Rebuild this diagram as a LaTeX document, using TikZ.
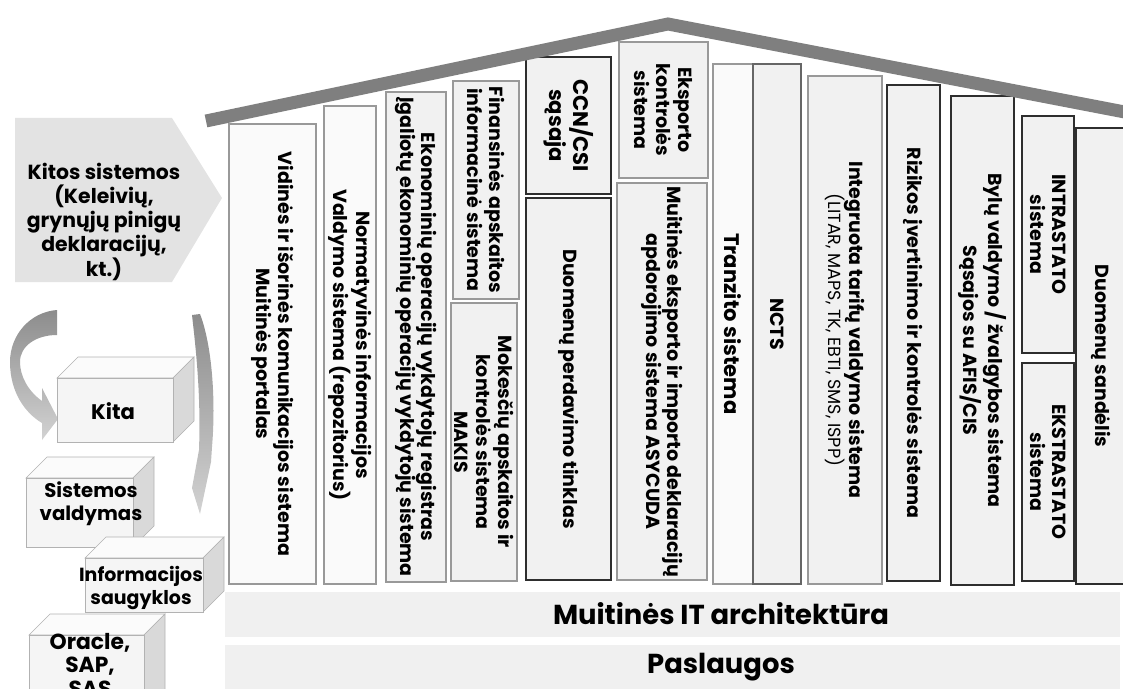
\documentclass[tikz,border=0pt]{standalone}
\usepackage{fontspec}
\setmainfont{Poppins}
\usetikzlibrary{positioning,fit}

\definecolor{roofgray}{HTML}{7F7F7F}
\definecolor{pale}{HTML}{FAFAFA}
\definecolor{light}{HTML}{F1F1F1}
\definecolor{edgelight}{HTML}{999999}
\definecolor{edgemid}{HTML}{666666}
\definecolor{edgedark}{HTML}{2E2E2E}

\begin{document}
\begin{tikzpicture}[x=0.025cm,y=-0.025cm,
    box/.style={draw=#1,line width=0.9pt,inner sep=0pt},
    vtext/.style={rotate=-90,align=center,inner sep=0pt,font=\bfseries\fontsize{13.5}{15.5}\selectfont},
    bar/.style={fill=gray!12,inner sep=0pt},
    bartext/.style={font=\bfseries\fontsize{19.5}{22}\selectfont},
    cubetext/.style={align=center,inner sep=0pt,font=\bfseries\fontsize{14}{16.5}\selectfont},
    bendarrow/.style={top color=gray!90,bottom color=gray!35,draw=none}]
  \useasboundingbox (0,0) rectangle (1123,689);

  % other systems
  \fill[gray!22] (15,118) -- (172,118) -- (222,198) -- (172,282) -- (15,282) -- cycle;
  \node[cubetext,font=\bfseries\fontsize{14.5}{17}\selectfont] (kitos) at (104,222)
    {Kitos sistemos\\(Keleivių,\\grynųjų pinigų\\deklaracijų,\\kt.)};

  \shade[bendarrow] (57,310) .. controls (30,312) and (10,335) .. (10,362)
    .. controls (10,392) and (25,413) .. (42,423) -- (42,440) -- (58,419) -- (42,388) -- (42,401)
    .. controls (28,391) and (20,376) .. (20,362) .. controls (20,346) and (36,335) .. (57,335) -- cycle;
  \shade[bendarrow] (192,315) .. controls (196,350) and (201,395) .. (199,450) -- (192,488)
    -- (200,514) -- (211,462) -- (212,447) .. controls (216,400) and (212,345) .. (200,314) -- cycle;

  % cubes
  \foreach \x/\y/\w/\h in {57/378/116/64, 26/478/107/69, 85/558/118/54, 29/635/115/80}{
    \draw[gray!60,fill=gray!3] (\x,\y) -- ++(21,-21) -- ++(\w,0) -- ++(-21,21) -- cycle;
    \draw[gray!60,fill=gray!30] (\x+\w,\y) -- ++(21,-21) -- ++(0,\h) -- ++(-21,21) -- cycle;
    \draw[gray!60,fill=gray!8] (\x,\y) rectangle ++(\w,\h);
  }
  \node[cubetext,font=\bfseries\fontsize{15}{16.5}\selectfont] (kita) at (113,411) {Kita};
  \node[cubetext] (valdymas) at (91,504) {Sistemos\\valdymas};
  \node[cubetext,font=\bfseries\fontsize{13.5}{16.5}\selectfont] (saugyklos) at (141,588) {Informacijos\\saugyklos};
  \node[cubetext,font=\bfseries\fontsize{15.5}{16.5}\selectfont] (oracle) at (90,665) {Oracle,\\SAP,\\SAS};

  % base
  \node[bar,fit={(225,592)(1120,637)}] (arch) {};
  \node[bartext] (arch-t) at (721,614) {Muitinės IT architektūra};
  \node[bar,fit={(225,645)(1120,689)}] (paslaugos) {};
  \node[bartext] (paslaugos-t) at (721,667) {Paslaugos};

  % columns
  \node[box=edgelight,fill=pale,fit={(229,124)(316,584)}] (vidines) {};
  \node[vtext] (vidines-t) at (vidines) {Vidinės ir išorinės komunikacijos sistema\\Muitinės portalas};
  \node[box=edgelight,fill=pale,fit={(324,106)(376,584)}] (norm) {};
  \node[vtext] (norm-t) at (norm) {Normatyvinės informacijos\\Valdymo sistema (repozitorius)};
  \node[box=edgelight,fill=light,fit={(386,92)(446,582)}] (eko) {};
  \node[vtext] (eko-t) at (eko) {Ekonominių operacijų vykdytojų registras\\Įgaliotų ekonominių operacijų vykdytojų sistema};
  \node[box=edgelight,fill=light,fit={(453,81)(519,299)}] (fin) {};
  \node[vtext] (fin-t) at (fin) {Finansinės apskaitos\\informacinė sistema};
  \node[box=edgelight,fill=light,fit={(451,303)(517,581)}] (makis) {};
  \node[vtext] (makis-t) at (makis) {Mokesčių apskaitos ir\\kontrolės sistema\\MAKIS};
  \node[box=edgedark,fill=light,fit={(526,57)(611,194)}] (ccn) {};
  \node[vtext,font=\bfseries\fontsize{15}{17}\selectfont] (ccn-t) at (ccn) {CCN/CSI\\sąsaja};
  \node[box=edgedark,fill=light,fit={(526,198)(611,580)}] (perd) {};
  \node[vtext] (perd-t) at (perd) {Duomenų perdavimo tinklas};
  \node[box=edgelight,fill=light,fit={(619,42)(708,178)}] (eksk) {};
  \node[vtext] (eksk-t) at (eksk) {Eksporto\\kontrolės\\sistema};
  \node[box=edgelight,fill=light,fit={(617,183)(707,580)}] (asy) {};
  \node[vtext] (asy-t) at (asy) {Muitinės eksporto ir importo deklaracijų\\apdorojimo sistema ASYCUDA};
  \node[box=edgelight,fill=pale,fit={(713,64)(753,584)}] (tranz) {};
  \node[vtext,font=\bfseries\fontsize{15}{17}\selectfont] (tranz-t) at (tranz) {Tranzito sistema};
  \node[box=edgemid,fill=light,fit={(753,64)(801,584)}] (ncts) {};
  \node[vtext] (ncts-t) at (ncts) {NCTS};
  \node[box=edgelight,fill=light,fit={(808,76)(882,584)}] (integ) {};
  \node[vtext] (integ-t) at (integ) {Integruota tarifų valdymo sistema\\{\mdseries\fontsize{12.5}{14}\selectfont (LITAR, MAPS, TK, EBTI, SMS, ISPP)}};
  \node[box=edgedark,fill=light,fit={(887,85)(940,581)}] (riz) {};
  \node[vtext] (riz-t) at (riz) {Rizikos įvertinimo ir kontrolės sistema};
  \node[box=edgedark,fill=light,fit={(951,96)(1014,585)}] (byl) {};
  \node[vtext] (byl-t) at (byl) {Bylų valdymo / žvalgybos sistema\\Sąsajos su AFIS/CIS};
  \node[box=edgedark,fill=light,fit={(1022,116)(1074,353)}] (intra) {};
  \node[vtext] (intra-t) at (intra) {INTRASTATO\\sistema};
  \node[box=edgedark,fill=light,fit={(1022,363)(1074,581)}] (ekstra) {};
  \node[vtext] (ekstra-t) at (ekstra) {EKSTRASTATO\\sistema};
  \node[box=edgedark,fill=light,fit={(1076,128)(1126,584)}] (sand) {};
  \node[vtext] (sand-t) at (sand) {Duomenų sandėlis};

  % roof
  \draw[roofgray,line width=9.2pt,line join=miter] (206,121) -- (668,24) -- (1135,114);
\end{tikzpicture}
\end{document}
